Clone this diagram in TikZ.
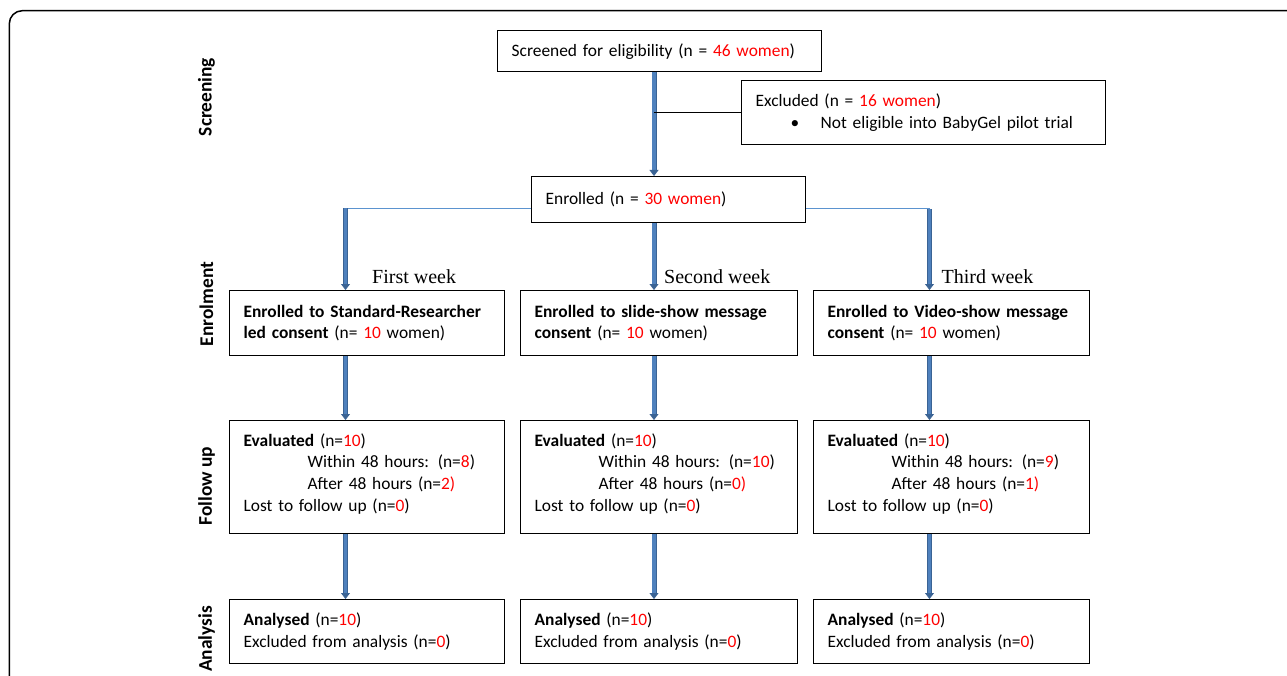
\documentclass[tikz,border=0pt]{standalone}
\usepackage{fontspec}
\setmainfont{Carlito}
\newfontfamily\serifw{Liberation Serif}
\usetikzlibrary{arrows.meta}
\definecolor{blueF}{HTML}{4F81BD}
\definecolor{blueD}{HTML}{3A6394}
\definecolor{blueL}{HTML}{5B93CF}
\newcommand{\rd}[1]{\textcolor{red}{#1}}
\newcommand{\oneline}[1]{\mbox{#1}}
\begin{document}
\begin{tikzpicture}[x=1pt,y=-1pt,
 box/.style={draw=black, line width=1.3pt, inner xsep=14pt, inner ysep=0pt, align=left, anchor=north west, font=\fontsize{17.4}{21.7}\selectfont},
 week/.style={anchor=west, inner sep=0pt, font=\serifw\fontsize{20}{24}\selectfont},
 phase/.style={rotate=90, font=\bfseries\fontsize{19.4}{23}\selectfont},
 flow/.style={double=blueF, draw=blueD, line width=0.8pt, double distance=3.4pt, -{Triangle[width=9pt,length=6pt]}},
 thinb/.style={draw=blueL, line width=1.2pt},
 excl/.style={draw=black, line width=1.6pt}]
\useasboundingbox (0,0) rectangle (1287,676);
\begin{scope}
\clip (0,0) rectangle (1287,676);
\draw[line width=1.5pt, rounded corners=13pt] (9.3,700) -- (9.3,10.7) -- (1300,10.7);
\end{scope}
% coordinates for arrow columns
\coordinate (mx) at (654,0);
\coordinate (jl) at (345.5,208.3);
\coordinate (jr) at (929.5,208.8);
% top boxes
\node[box, text width=296pt, minimum height=41pt] (scr) at (497,30) {\oneline{Screened for eligibility (n = \rd{46 women})}};
\node[box, text width=336pt, minimum height=64pt] (exc) at (741,80) {\oneline{Excluded (n = \rd{16 women})}\\\oneline{\hspace*{35pt}\makebox[30pt][l]{•}Not eligible into BabyGel pilot trial}};
\node[box, text width=246pt, minimum height=46pt] (enr) at (531,176) {\oneline{Enrolled (n = \rd{30 women})}};
% row 1
\node[box, text width=247pt, minimum height=65pt] (a1) at (229,290) {\oneline{\textbf{Enrolled to Standard-Researcher}}\\\oneline{\textbf{led consent} (n= \rd{10} women)}};
\node[box, text width=249pt, minimum height=65pt] (a2) at (520,290) {\oneline{\textbf{Enrolled to slide-show message}}\\\oneline{\textbf{consent} (n= \rd{10} women)}};
\node[box, text width=248pt, minimum height=65pt] (a3) at (813,290) {\oneline{\textbf{Enrolled to Video-show message}}\\\oneline{\textbf{consent} (n= \rd{10} women)}};
% row 2
\node[box, text width=247pt, minimum height=113pt] (b1) at (229,420) {\oneline{\textbf{Evaluated} (n=\rd{10})}\\\oneline{\hspace*{64pt}Within 48 hours: (n=\rd{8})}\\\oneline{\hspace*{64pt}After 48 hours (n=\rd{2)}}\\\oneline{Lost to follow up (n=\rd{0})}\\[-12pt]\mbox{}};
\node[box, text width=249pt, minimum height=113pt] (b2) at (520,420) {\oneline{\textbf{Evaluated} (n=\rd{10})}\\\oneline{\hspace*{64pt}Within 48 hours: (n=\rd{10})}\\\oneline{\hspace*{64pt}After 48 hours (n=\rd{0)}}\\\oneline{Lost to follow up (n=\rd{0})}\\[-12pt]\mbox{}};
\node[box, text width=248pt, minimum height=113pt] (b3) at (813,420) {\oneline{\textbf{Evaluated} (n=\rd{10})}\\\oneline{\hspace*{64pt}Within 48 hours: (n=\rd{9})}\\\oneline{\hspace*{64pt}After 48 hours (n=\rd{1)}}\\\oneline{Lost to follow up (n=\rd{0})}\\[-12pt]\mbox{}};
% row 3
\node[box, text width=247pt, minimum height=64pt] (c1) at (229,599) {\oneline{\textbf{Analysed} (n=\rd{10})}\\\oneline{Excluded from analysis (n=\rd{0})}};
\node[box, text width=249pt, minimum height=64pt] (c2) at (520,599) {\oneline{\textbf{Analysed} (n=\rd{10})}\\\oneline{Excluded from analysis (n=\rd{0})}};
\node[box, text width=248pt, minimum height=64pt] (c3) at (813,599) {\oneline{\textbf{Analysed} (n=\rd{10})}\\\oneline{Excluded from analysis (n=\rd{0})}};
% week labels
\node[week] (w1) at (372,276.5) {First week};
\node[week] (w2) at (664,276.5) {Second week};
\node[week] (w3) at (941.5,276.5) {Third week};
% phase labels
\node[phase] (p1) at (206.5,97) {Screening};
\node[phase] (p2) at (206.5,304) {Enrolment};
\node[phase] (p3) at (206.5,486) {Follow up};
\node[phase] (p4) at (206.5,639) {Analysis};
% connectors
\draw[flow] (scr.south -| mx) -- (enr.north -| mx);
\draw[excl] (exc.west) -- (exc.west -| mx);
\draw[thinb] (enr.west |- jl) -- (jl);
\draw[thinb] (enr.east |- jr) -- (jr);
\draw[flow] (jl) -- (jl |- a1.north);
\draw[flow] (enr.south -| mx) -- (a2.north -| mx);
\draw[flow] (jr) -- (jr |- a3.north);
\draw[flow] (a1.south -| jl) -- (b1.north -| jl);
\draw[flow] (a2.south -| mx) -- (b2.north -| mx);
\draw[flow] (a3.south -| jr) -- (b3.north -| jr);
\draw[flow] (b1.south -| jl) -- (c1.north -| jl);
\draw[flow] (b2.south -| mx) -- (c2.north -| mx);
\draw[flow] (b3.south -| jr) -- (c3.north -| jr);
\end{tikzpicture}
\end{document}
